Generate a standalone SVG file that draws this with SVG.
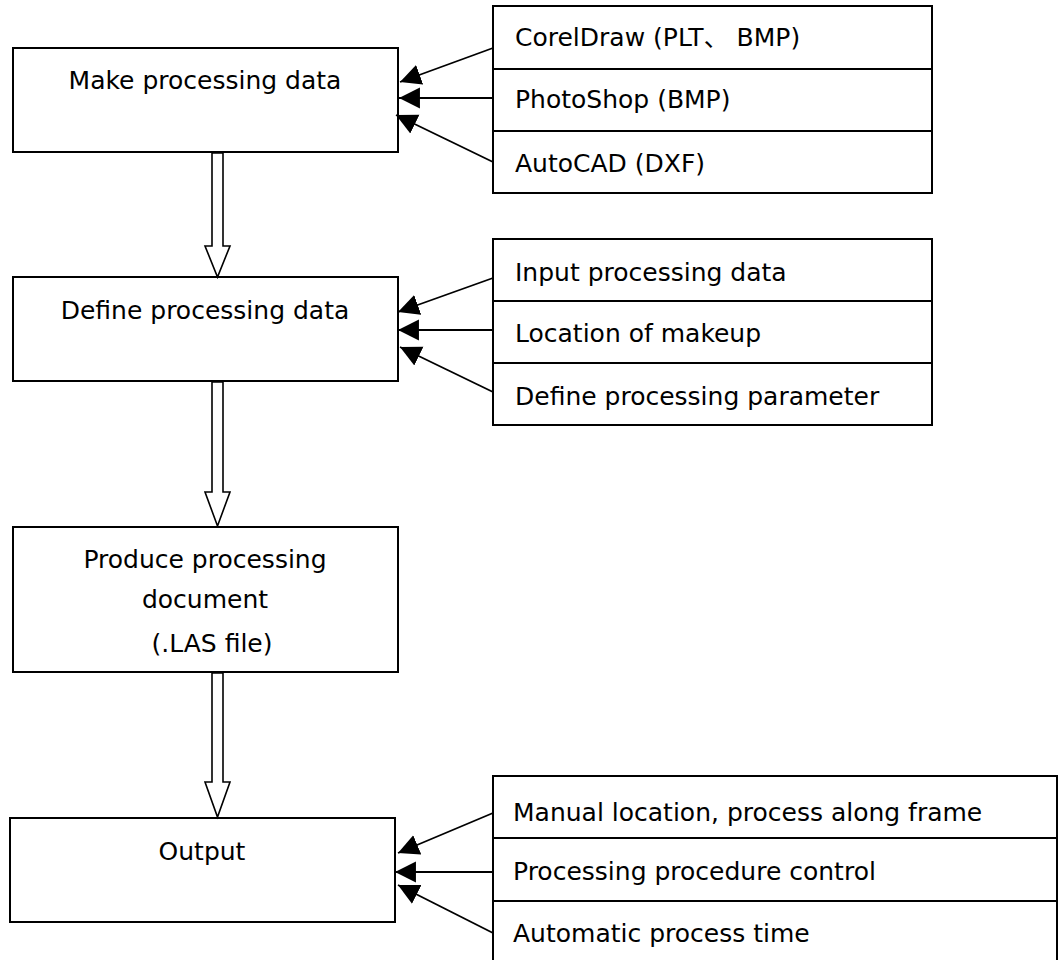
<svg xmlns="http://www.w3.org/2000/svg" width="1061" height="960" viewBox="0 0 1061 960">
<style>
.box{fill:#fff;stroke:#000;stroke-width:2}
.t{font-family:"DejaVu Sans","Noto Sans CJK SC",sans-serif;font-size:25px;fill:#000}
.c{text-anchor:middle}
.ln{fill:none;stroke:#000;stroke-width:1.8}
.hollow{fill:#fff;stroke:#000;stroke-width:1.6;stroke-linejoin:miter}
</style>
<defs>
<marker id="ah" markerUnits="userSpaceOnUse" markerWidth="22" markerHeight="22" refX="20" refY="10" orient="auto" viewBox="0 0 21 20">
<path d="M0,0 L20,10 L0,20 z" fill="#000"/>
</marker>
</defs>
<g id="n1"><rect class="box" x="13" y="48" width="385" height="104"/><text class="t c" x="205" y="89">Make processing data</text></g>
<g id="n2"><rect class="box" x="13" y="277" width="385" height="104"/><text class="t c" x="205" y="319">Define processing data</text></g>
<g id="n3"><rect class="box" x="13" y="527" width="385" height="145"/><text class="t c" x="205" y="568">Produce processing</text><text class="t c" x="205" y="608">document</text><text class="t c" x="212" y="652">(.LAS file)</text></g>
<g id="n4"><rect class="box" x="10" y="818" width="385" height="104"/><text class="t c" x="202" y="860">Output</text></g>
<g id="r1"><rect class="box" x="493" y="6" width="439" height="187"/><line class="ln" x1="493" y1="69" x2="932" y2="69"/><line class="ln" x1="493" y1="131" x2="932" y2="131"/>
<text class="t" x="515" y="46">CorelDraw (PLT、 BMP)</text><text class="t" x="515" y="108">PhotoShop (BMP)</text><text class="t" x="515" y="172">AutoCAD (DXF)</text></g>
<g id="r2"><rect class="box" x="493" y="239" width="439" height="186"/><line class="ln" x1="493" y1="301" x2="932" y2="301"/><line class="ln" x1="493" y1="363" x2="932" y2="363"/>
<text class="t" x="515" y="281">Input processing data</text><text class="t" x="515" y="342">Location of makeup</text><text class="t" x="515" y="405">Define processing parameter</text></g>
<g id="r3"><rect class="box" x="493" y="776" width="564" height="190"/><line class="ln" x1="493" y1="838" x2="1057" y2="838"/><line class="ln" x1="493" y1="901" x2="1057" y2="901"/>
<text class="t" x="513" y="821">Manual location, process along frame</text><text class="t" x="513" y="880">Processing procedure control</text><text class="t" x="513" y="942">Automatic process time</text></g>
<g id="connectors">
<polygon class="hollow" points="212,153 212,246 205,246 217.5,277 230,246 223,246 223,153"/>
<polygon class="hollow" points="212,382 212,492 205,492 217.5,526 230,492 223,492 223,382"/>
<polygon class="hollow" points="212,673 212,782 205,782 217.5,817 230,782 223,782 223,673"/>
<line class="ln" x1="493" y1="48" x2="400" y2="82" marker-end="url(#ah)"/>
<line class="ln" x1="493" y1="98" x2="399" y2="98" marker-end="url(#ah)"/>
<line class="ln" x1="493" y1="162" x2="396" y2="115" marker-end="url(#ah)"/>
<line class="ln" x1="493" y1="278" x2="398" y2="312" marker-end="url(#ah)"/>
<line class="ln" x1="493" y1="330" x2="398" y2="330" marker-end="url(#ah)"/>
<line class="ln" x1="493" y1="392" x2="400" y2="347" marker-end="url(#ah)"/>
<line class="ln" x1="493" y1="813" x2="398" y2="853" marker-end="url(#ah)"/>
<line class="ln" x1="493" y1="872" x2="395" y2="872" marker-end="url(#ah)"/>
<line class="ln" x1="493" y1="933" x2="398" y2="885" marker-end="url(#ah)"/>
</g>
</svg>
